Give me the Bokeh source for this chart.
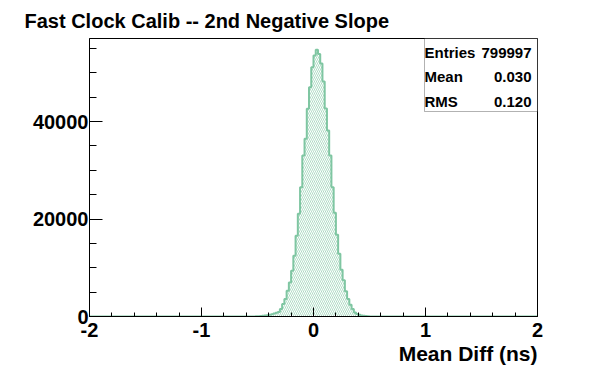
from bokeh.plotting import figure
from bokeh.models import Label, BoxAnnotation, SingleIntervalTicker, Range1d, Title
from bokeh.embed import file_html
from bokeh.resources import INLINE

# ---------------- data ----------------
title_text = "Fast Clock Calib -- 2nd Negative Slope"
x_label = "Mean Diff (ns)"
hist_low = -2.0
hist_high = 2.0
n_bins = 200
first_filled_bin_left = -0.52   # left edge of first non-empty bin
bin_counts = [30, 50, 90, 140, 200, 280, 380, 480, 600, 780, 900,
              1520, 2548, 3575, 5280, 6985, 9389, 12470, 16580, 21099, 26502,
              33015, 36446, 42609, 47047, 51156, 53560, 54730, 53868, 51916,
              48218, 42671, 38151, 33015, 26502, 21305, 16785, 12881, 9594,
              7437, 5177, 3575, 2404, 1520, 822, 493, 349, 220, 140, 80, 40]
x_tick_values = [-2, -1, 0, 1, 2]
x_tick_labels = ["-2", "-1", "0", "1", "2"]
stat_names = ["Entries", "Mean", "RMS"]
stat_values = ["799997", "0.030", "0.120"]

# ---------------- build histogram ----------------
width = (hist_high - hist_low) / n_bins
edges = [hist_low + i * width for i in range(n_bins + 1)]
full = [0] * n_bins
start = int(round((first_filled_bin_left - hist_low) / width))
for i, c in enumerate(bin_counts):
    full[start + i] = c

GREEN = "#7fc6a2"
FONT = "Liberation Sans"
ymax = max(full) * 1.042

FRAME_W = 448
FRAME_H = 278

p = figure(width=596, height=372, output_backend="svg", toolbar_location=None,
           x_range=Range1d(hist_low, hist_high), y_range=Range1d(0, ymax),
           min_border_left=89, min_border_right=59, min_border_top=38,
           min_border_bottom=56)
p.background_fill_color = "white"
p.border_fill_color = "white"
p.outline_line_color = "black"
p.outline_line_width = 1
p.xgrid.visible = False
p.ygrid.visible = False

# title
p.title.text = title_text
p.title.text_font = FONT
p.title.text_font_style = "bold"
p.title.text_font_size = "20px"
p.title.text_color = "black"
p.title.align = "left"
p.title.offset = -65
p.title.standoff = 14

p.quad(left=edges[:-1], right=edges[1:], bottom=0, top=full,
       fill_color=None, line_color=None,
       hatch_pattern="\\", hatch_color=GREEN, hatch_scale=4,
       hatch_weight=0.8, hatch_alpha=0.8)
p.step(x=edges, y=full + [full[-1]], mode="after", line_color=GREEN, line_width=2)

# axes
p.xaxis.ticker = SingleIntervalTicker(interval=1, num_minor_ticks=5)
p.yaxis.ticker = SingleIntervalTicker(interval=20000, num_minor_ticks=4)
p.xaxis.major_label_overrides = dict(zip(x_tick_values, x_tick_labels))
for ax in (p.xaxis, p.yaxis):
    ax.axis_line_color = "black"
    ax.major_tick_line_color = "black"
    ax.minor_tick_line_color = "black"
    ax.major_tick_out = 0
    ax.minor_tick_out = 0
    ax.major_label_text_font = FONT
    ax.major_label_text_font_style = "bold"
    ax.major_label_text_color = "black"
p.xaxis.major_label_text_font_size = "20px"
p.yaxis.major_label_text_font_size = "20px"
p.xaxis.major_tick_in = 9
p.xaxis.minor_tick_in = 4
p.yaxis.major_tick_in = 13
p.yaxis.minor_tick_in = 7
p.xaxis.major_label_standoff = 6
p.yaxis.major_label_standoff = 1

# x axis title, right aligned under the frame
p.add_layout(Title(text=x_label, align="right", offset=0, standoff=0,
                   text_font=FONT, text_font_style="bold", text_font_size="21px",
                   text_color="black"), "below")

# stats box
box_left = hist_high - (hist_high - hist_low) * (113 / FRAME_W)
box_bottom = ymax - ymax * (73 / FRAME_H)
p.add_layout(BoxAnnotation(left=box_left, right=hist_high, bottom=box_bottom, top=ymax,
                           fill_color="white", fill_alpha=1, line_color="black",
                           line_width=1))
base_y = [264, 240, 215]
for name, val, yy in zip(stat_names, stat_values, base_y):
    p.add_layout(Label(x=335, y=yy, x_units="screen", y_units="screen", text=name,
                       text_font=FONT, text_font_style="bold", text_font_size="15px",
                       text_align="left", text_baseline="alphabetic", text_color="black"))
    p.add_layout(Label(x=442, y=yy, x_units="screen", y_units="screen", text=val,
                       text_font=FONT, text_font_style="bold", text_font_size="15px",
                       text_align="right", text_baseline="alphabetic", text_color="black"))

open("out.html", "w").write(file_html(p, INLINE))
